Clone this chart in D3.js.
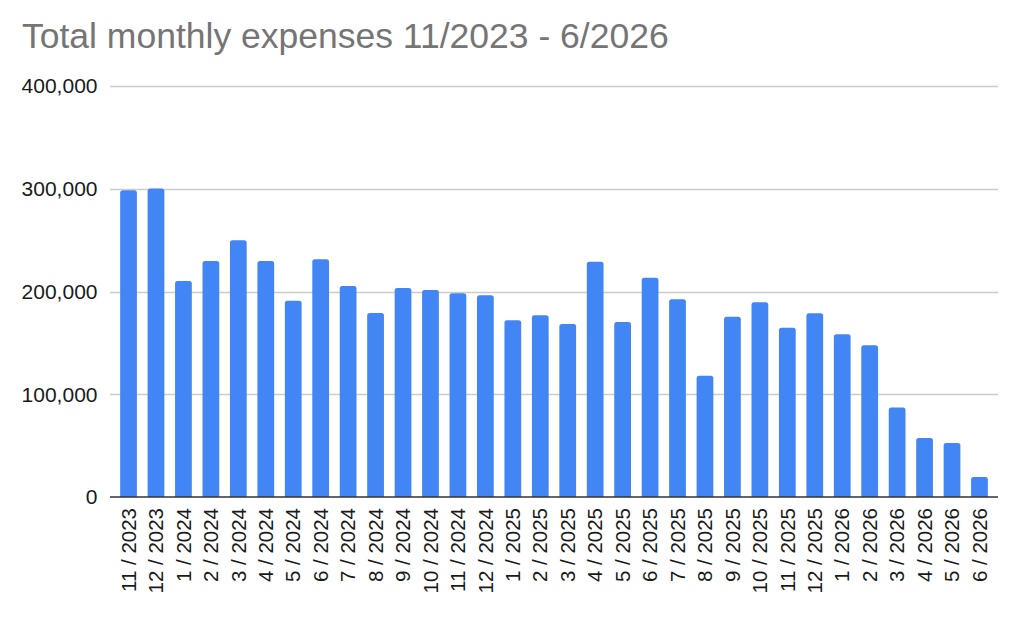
<!DOCTYPE html>
<html>
<head>
<meta charset="utf-8">
<script src="https://cdn.jsdelivr.net/npm/d3@7"></script>
<style>
  body { margin: 0; background: #fff; }
  svg { display: block; font-family: Arial, "Liberation Sans", sans-serif; }
</style>
</head>
<body>
<svg id="chart" width="1024" height="621"></svg>
<script>
// months on the x axis
const months = [
  '11 / 2023', '12 / 2023',
  '1 / 2024', '2 / 2024', '3 / 2024', '4 / 2024', '5 / 2024', '6 / 2024',
  '7 / 2024', '8 / 2024', '9 / 2024', '10 / 2024', '11 / 2024', '12 / 2024',
  '1 / 2025', '2 / 2025', '3 / 2025', '4 / 2025', '5 / 2025', '6 / 2025',
  '7 / 2025', '8 / 2025', '9 / 2025', '10 / 2025', '11 / 2025', '12 / 2025',
  '1 / 2026', '2 / 2026', '3 / 2026', '4 / 2026', '5 / 2026', '6 / 2026'
];

// total expenses per month
const expenses = [
  298600, 300300,
  210200, 229600, 250000, 229600, 191000, 231300,
  205300, 179100, 203400, 201500, 198300, 196300,
  172000, 176900, 168400, 229000, 170400, 213400,
  192400, 118000, 175500, 189500, 164800, 178800,
  158400, 147700, 87100, 57300, 52500, 19400
];

const yTicks = [0, 100000, 200000, 300000, 400000];
const title = 'Total monthly expenses 11/2023 - 6/2026';

const svg = d3.select('#chart');
const plotLeft = 110, plotRight = 998, plotTop = 86, plotBottom = 497;

const x = d3.scaleBand()
  .domain(months)
  .range([plotLeft, plotRight])
  .paddingInner(0.39)
  .paddingOuter(0.37);

const y = d3.scaleLinear()
  .domain([0, 400000])
  .range([plotBottom, plotTop]);

svg.append('text')
  .attr('x', 22)
  .attr('y', 48)
  .attr('fill', '#757575')
  .attr('font-size', 35.5)
  .text(title);

// gridlines
svg.append('g')
  .selectAll('line')
  .data(yTicks.filter(d => d > 0))
  .join('line')
  .attr('x1', plotLeft)
  .attr('x2', plotRight)
  .attr('y1', d => Math.round(y(d)) + 0.5)
  .attr('y2', d => Math.round(y(d)) + 0.5)
  .attr('stroke', '#cccccc')
  .attr('stroke-width', 1.3);

// y labels
svg.append('g')
  .selectAll('text')
  .data(yTicks)
  .join('text')
  .attr('x', 97.5)
  .attr('y', d => y(d))
  .attr('dy', '0.35em')
  .attr('text-anchor', 'end')
  .attr('font-size', 21)
  .attr('fill', '#1a1a1a')
  .text(d => d3.format(',')(d));

// bars with rounded tops
const r = 2.5;
svg.append('g')
  .selectAll('path')
  .data(expenses)
  .join('path')
  .attr('fill', '#4285f4')
  .attr('d', (d, i) => {
    const x0 = x(months[i]), w = x.bandwidth();
    const yt = y(d), yb = y(0);
    return `M${x0},${yb}V${yt + r}Q${x0},${yt} ${x0 + r},${yt}` +
      `H${x0 + w - r}Q${x0 + w},${yt} ${x0 + w},${yt + r}V${yb}Z`;
  });

// baseline
svg.append('line')
  .attr('x1', plotLeft)
  .attr('x2', plotRight)
  .attr('y1', y(0))
  .attr('y2', y(0))
  .attr('stroke', '#333')
  .attr('stroke-width', 1.5);

// x labels, rotated
svg.append('g')
  .selectAll('text')
  .data(months)
  .join('text')
  .attr('transform', d => `translate(${x(d) + x.bandwidth() / 2},${plotBottom + 11}) rotate(-90)`)
  .attr('dy', '0.35em')
  .attr('text-anchor', 'end')
  .attr('font-size', 20.5)
  .attr('fill', '#1a1a1a')
  .text(d => d);
</script>
</body>
</html>
